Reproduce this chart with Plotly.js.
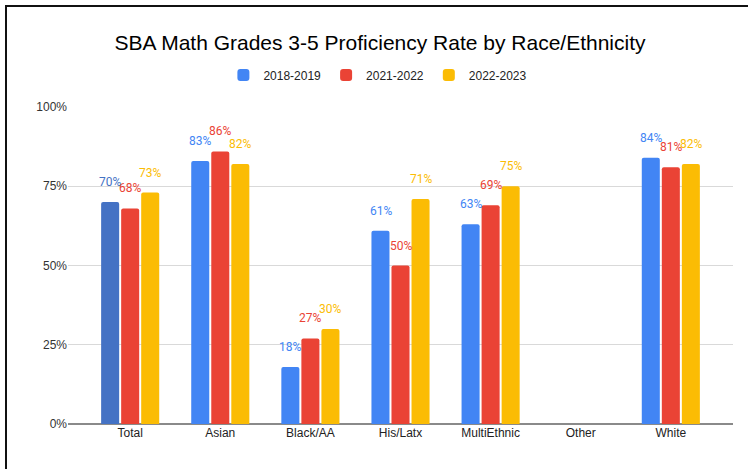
<!DOCTYPE html>
<html>
<head>
<title>SBA Math Grades 3-5</title>
<script src="https://cdn.plot.ly/plotly-3.0.1.min.js"></script>
<style>
	body {
		margin: 0;
		background-color: white;
		overflow: hidden;
	}
	#chart {
		position: absolute;
		left: 0;
		top: 0;
		width: 748px;
		height: 469px;
	}
	#frame {
		position: absolute;
		left: 5px;
		top: 5px;
		width: 800px;
		height: 520px;
		border: 2px solid #111;
		pointer-events: none;
	}
</style>
</head>
<body>
<div id="chart"></div>
<div id="frame"></div>
<script>
	var groups = ['Total', 'Asian', 'Black/AA', 'His/Latx', 'MultiEthnic', 'Other', 'White'];
	var years = ['2018-2019', '2021-2022', '2022-2023'];
	var rate1819 = [70, 83, 18, 61, 63, null, 84];
	var rate2122 = [68, 86, 27, 50, 69, null, 81];
	var rate2223 = [73, 82, 30, 71, 75, null, 82];
	var colors = ['#4285f4', '#ea4335', '#fbbc04'];
	var totalBlue = '#4472c4';

	var series = [rate1819, rate2122, rate2223];
	var traces = [];
	var notes = [];

	series.forEach(function (vals, i) {
		// the Total bar of the first season is drawn darker, in its own trace
		var mainVals = vals.map(function (v, j) {
			return (i === 0 && groups[j] === 'Total') ? null : v;
		});
		traces.push({
			x: groups,
			y: mainVals,
			type: 'bar',
			name: years[i],
			offsetgroup: 'g' + i,
			marker: {color: colors[i], line: {width: 0}}
		});
		if (i === 0) {
			traces.push({
				x: [groups[0]],
				y: [vals[0]],
				type: 'bar',
				name: years[i],
				offsetgroup: 'g' + i,
				showlegend: false,
				marker: {color: totalBlue, line: {width: 0}}
			});
		}
		// data labels floating above each bar
		vals.forEach(function (v, j) {
			if (v === null) return;
			var c = (i === 0 && groups[j] === 'Total') ? totalBlue : colors[i];
			notes.push({
				x: groups[j],
				y: v,
				text: v + '%',
				showarrow: false,
				xshift: (i - 1) * 20,
				yshift: 20,
				yanchor: 'middle',
				font: {family: 'Roboto, sans-serif', size: 12, color: c}
			});
		});
	});

	var layout = {
	  width: 748,
	  height: 469,
	  margin: {l: 68, r: 15, t: 107, b: 45},
	  paper_bgcolor: 'white',
	  plot_bgcolor: 'white',
	  font: {family: 'Arial, "Liberation Sans", sans-serif', size: 12, color: '#333'},
	  title: {
	    text: 'SBA Math Grades 3-5 Proficiency Rate by Race/Ethnicity',
	    font: {size: 21, color: '#000'},
	    x: 0.508,
	    xanchor: 'center',
	    y: 0.91,
	    yanchor: 'middle'
	  },
	  showlegend: true,
	  legend: {
	    orientation: 'h',
	    x: 0.466,
	    xanchor: 'center',
	    y: 1.101,
	    yanchor: 'middle',
	    font: {size: 12, color: '#222'},
	    itemwidth: 30,
	    traceorder: 'normal'
	  },
	  barmode: 'group',
	  bargap: 0.333,
	  bargroupgap: 0.1,
	  barcornerradius: 2,
	  xaxis: {
	    range: [-0.69, 6.69],
	    showgrid: false,
	    ticks: '',
	    tickfont: {size: 12, color: '#222'}
	  },
	  yaxis: {
	    range: [0, 100],
	    dtick: 25,
	    ticksuffix: '%',
	    gridcolor: '#d9d9d9',
	    gridwidth: 1,
	    zeroline: true,
	    zerolinecolor: '#8a8a8a',
	    zerolinewidth: 1.5,
	    tickfont: {size: 12, color: '#333'},
	    fixedrange: true
	  },
	  annotations: notes
	};

	Plotly.newPlot('chart', traces, layout, {displayModeBar: false, staticPlot: true});
</script>
</body>
</html>
